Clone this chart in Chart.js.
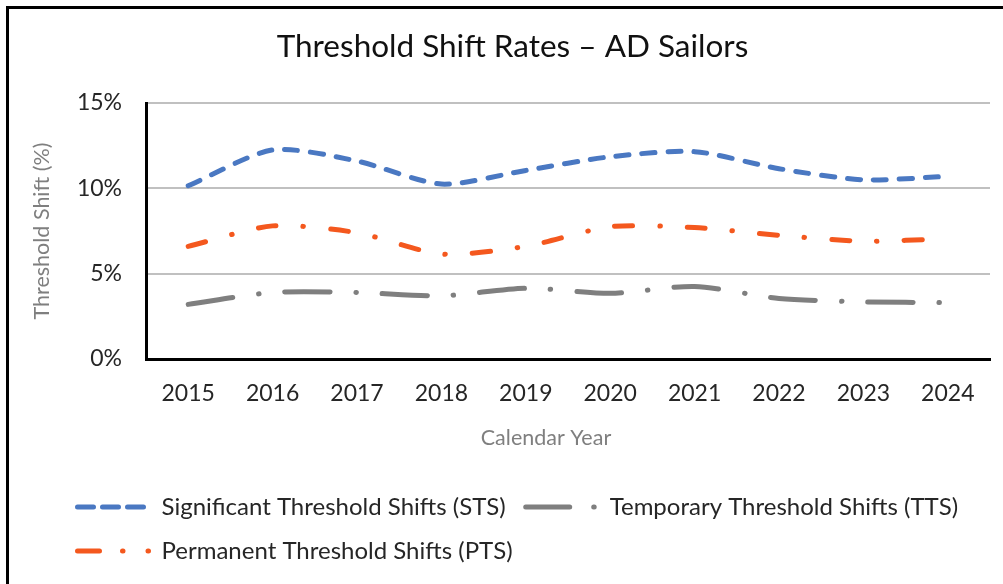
<!DOCTYPE html>
<html>
<head>
<meta charset="utf-8">
<script src="https://cdn.jsdelivr.net/npm/chart.js@4"></script>
<style>
  html, body { margin: 0; padding: 0; background: #fff; overflow: hidden; }
  #frame { position: absolute; left: 6px; top: 6px; width: 1100px; height: 700px;
           border-left: 3px solid #000; border-top: 3px solid #000; box-sizing: border-box; }
  #wrap { position: absolute; left: 0; top: 0; width: 1003px; height: 584px; }
</style>
</head>
<body>
<div id="frame"></div>
<div id="wrap"><canvas id="c" width="1003" height="584"></canvas></div>
<script>
const categories = ['2015','2016','2017','2018','2019','2020','2021','2022','2023','2024'];
const stsValues = [10.15, 12.25, 11.6, 10.25, 11.05, 11.85, 12.15, 11.15, 10.5, 10.7];
const ttsValues = [3.2, 3.9, 3.9, 3.7, 4.15, 3.85, 4.25, 3.55, 3.35, 3.3];
const ptsValues = [6.6, 7.8, 7.4, 6.15, 6.6, 7.75, 7.7, 7.25, 6.9, 7.05];
const yTicks = [0, 5, 10, 15];
const seriesNames = ['Significant Threshold Shifts (STS)', 'Temporary Threshold Shifts (TTS)', 'Permanent Threshold Shifts (PTS)'];

const FONT = 'Lato, "Open Sans", sans-serif';
const legendDash = [[16, 9], [44, 24, 0.5, 100], [22, 23, 0.5, 25, 0.5, 100]];

const boxShift = {
  id: 'boxShift',
  afterLayout(chart) {
    if (chart.legend) { chart.legend.left = 57.5; }
    if (chart.titleBlock) { chart.titleBlock.left = 35; }
  }
};

new Chart(document.getElementById('c'), {
  type: 'line',
  data: {
    labels: categories,
    datasets: [
      { label: seriesNames[0], data: stsValues, borderColor: '#4A78C2', backgroundColor: '#4A78C2',
        borderWidth: 5, borderDash: [13, 13], borderCapStyle: 'round', tension: 0.25, pointRadius: 0 },
      { label: seriesNames[1], data: ttsValues, borderColor: '#7F7F7F', backgroundColor: '#7F7F7F',
        borderWidth: 5, borderDash: [45, 26, 0.5, 26], borderCapStyle: 'round', tension: 0.25, pointRadius: 0 },
      { label: seriesNames[2], data: ptsValues, borderColor: '#F4581E', backgroundColor: '#F4581E',
        borderWidth: 5, borderDash: [18, 27, 0.5, 27], borderCapStyle: 'round', tension: 0.25, pointRadius: 0 }
    ]
  },
  options: {
    responsive: false,
    animation: false,
    layout: { padding: { left: 0, right: 13, top: 0, bottom: 11 } },
    plugins: {
      title: {
        display: true,
        text: 'Threshold Shift Rates – AD Sailors',
        color: '#111',
        font: { family: FONT, size: 31.5, weight: 'normal', lineHeight: 1.2 },
        padding: { top: 28.1, bottom: 37.1 }
      },
      legend: {
        display: true,
        position: 'bottom',
        align: 'start',
        labels: {
          usePointStyle: true,
          pointStyle: 'line',
          pointStyleWidth: 72,
          padding: 20,
          color: '#262626',
          font: { family: FONT, size: 24 },
          generateLabels(chart) {
            const items = Chart.defaults.plugins.legend.labels.generateLabels(chart);
            items.forEach((it, i) => {
              it.lineDash = legendDash[i];
              it.lineCap = 'round';
              it.lineWidth = 5;
              it.pointStyle = 'line';
            });
            return items;
          }
        }
      },
      tooltip: { enabled: false }
    },
    scales: {
      x: {
        type: 'category',
        offset: true,
        grid: { display: false, drawTicks: false },
        border: { display: true, color: '#000', width: 3 },
        ticks: { color: '#262626', font: { family: FONT, size: 23 }, padding: 21, maxRotation: 0 },
        title: { display: true, text: 'Calendar Year' + ' '.repeat(8), color: '#7F7F7F',
                 font: { family: FONT, size: 21.5 }, padding: { top: 21, bottom: 24 } },
        afterFit(scale) { scale.height = 116; }
      },
      y: {
        min: 0, max: 15,
        afterBuildTicks(scale) { scale.ticks = yTicks.map(v => ({ value: v })); },
        grid: { color: '#C0C0C0', lineWidth: 2, drawTicks: false },
        border: { display: true, color: '#000', width: 3 },
        ticks: { color: '#262626', font: { family: FONT, size: 23 }, padding: 24,
                 callback: v => v + '%' },
        title: { display: true, text: 'Threshold Shift (%)', color: '#7F7F7F',
                 font: { family: FONT, size: 21.5 }, padding: { top: 29, bottom: 0 } },
        afterFit(scale) { scale.width = 146; }
      }
    }
  },
  plugins: [boxShift]
});
</script>
</body>
</html>
